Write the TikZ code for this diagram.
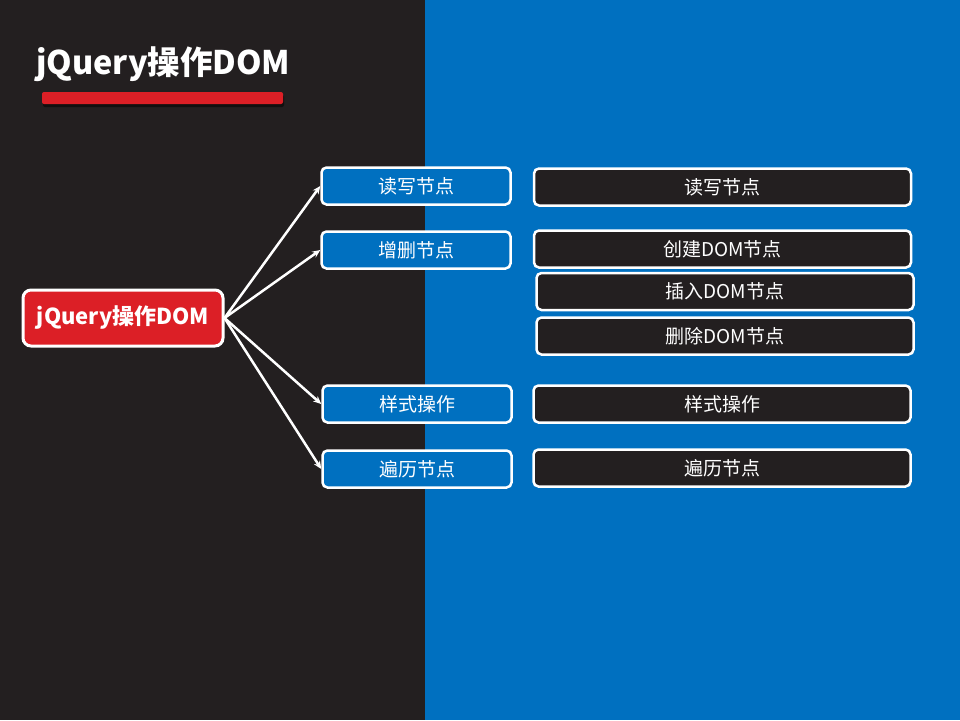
\documentclass[tikz,border=0pt]{standalone}
\usepackage{fontspec}
\setmainfont{Noto Sans CJK SC}
\usepackage{tikz}
\usetikzlibrary{arrows.meta,positioning}
\definecolor{slidedark}{HTML}{231F20}
\definecolor{slideblue}{HTML}{0070C0}
\definecolor{slidered}{HTML}{DC1F26}

\begin{document}
\begin{tikzpicture}[x=1pt, y=-1pt,
  topic/.style={draw=white, line width=3pt, fill=slidered,
    rounded corners=8pt, minimum width=200pt, minimum height=56pt,
    text=white, font=\fontsize{22}{26}\selectfont\bfseries},
  branch/.style={draw=white, line width=2.5pt, fill=slideblue,
    rounded corners=5pt, minimum width=189pt, minimum height=37pt,
    inner sep=0pt, text=white, font=\fontsize{19}{22}\selectfont},
  leaf/.style={branch, fill=slidedark, minimum width=377pt},
  link/.style={-{Stealth[length=8pt,width=7pt]}, white, line width=2.5pt},
]
  \useasboundingbox (0,0) rectangle (960,720);

  % Background halves
  \fill[slidedark] (0,0) rectangle (425,720);
  \fill[slideblue] (425,0) rectangle (960,720);

  % Title and red bar
  \node[anchor=base west, inner sep=0pt, text=white,
    font=\fontsize{32.5}{36}\selectfont\bfseries] (title) at (36,74)
    {jQuery操作DOM};
  \fill[black, opacity=0.5, rounded corners=2pt] (43,95) rectangle (284,107);
  \fill[slidered, rounded corners=2pt] (42,92) rectangle (283,104);

  % Central topic
  \node[topic] (dom) at (123,318) {jQuery操作DOM};

  % Branches
  \node[branch] (rw)   at (416,186) {读写节点};
  \node[branch] (edit) at (416,250) {增删节点};
  \node[branch] (css)  at (417,404) {样式操作};
  \node[branch] (walk) at (417,469) {遍历节点};

  % Leaves
  \node[leaf] (rwL)     at (722.5,187) {读写节点};
  \node[leaf] (create)  at (722.5,249) {创建DOM节点};
  \node[leaf] (insert)  at (725,291.5) {插入DOM节点};
  \node[leaf] (remove)  at (725,336)   {删除DOM节点};
  \node[leaf] (cssL)    at (722,404)   {样式操作};
  \node[leaf] (walkL)   at (722,468)   {遍历节点};

  % Arrows
  \foreach \b in {rw,edit,css,walk}
    \draw[link] (dom.east) -- (\b.west);
\end{tikzpicture}
\end{document}
